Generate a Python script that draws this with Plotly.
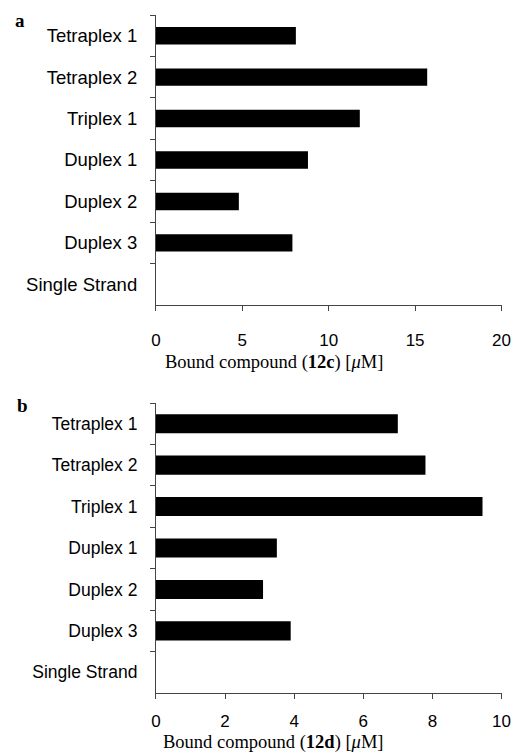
import plotly.graph_objects as go

categories = ["Tetraplex 1", "Tetraplex 2", "Triplex 1", "Duplex 1",
              "Duplex 2", "Duplex 3", "Single Strand"]
values_12c = [8.1, 15.7, 11.8, 8.8, 4.8, 7.9, 0]
values_12d = [7.0, 7.8, 9.45, 3.5, 3.1, 3.9, 0]
ticks_a = [0, 5, 10, 15, 20]
ticks_b = [0, 2, 4, 6, 8, 10]

W, H = 529, 755
def px(p):
    return p / W
def py(p):
    return 1 - p / H

fig = go.Figure()
fig.add_trace(go.Bar(y=categories, x=values_12c, orientation="h",
                     marker=dict(color="black", line=dict(width=0)),
                     width=0.42, xaxis="x", yaxis="y", showlegend=False))
fig.add_trace(go.Bar(y=categories, x=values_12d, orientation="h",
                     marker=dict(color="black", line=dict(width=0)),
                     width=0.46, xaxis="x2", yaxis="y2", showlegend=False))

xdom = [px(155), px(510)]
axis_common = dict(showline=True, linecolor="#444", linewidth=1,
                   showgrid=False, zeroline=False, ticks="outside",
                   tickcolor="#444", ticklen=5)

fig.update_layout(
    width=W, height=H,
    margin=dict(l=0, r=0, t=0, b=0),
    paper_bgcolor="white", plot_bgcolor="white",
    bargap=0.5,
    xaxis=dict(domain=xdom, range=[0, 20], tickvals=ticks_a, anchor="y",
               tickfont=dict(family="Liberation Sans", size=17, color="black"),
               ticklabelstandoff=15, **axis_common),
    yaxis=dict(domain=[py(305), py(15)], anchor="x", type="category",
               categoryorder="array", categoryarray=categories,
               range=[6.5, -0.5], tickson="boundaries",
               tickfont=dict(family="Liberation Sans", size=18.5, color="black"),
               ticklabelstandoff=14, **axis_common),
    xaxis2=dict(domain=xdom, range=[0, 10], tickvals=ticks_b, anchor="y2",
                tickfont=dict(family="Liberation Sans", size=17, color="black"),
                ticklabelstandoff=8, **axis_common),
    yaxis2=dict(domain=[py(693), py(403)], anchor="x2", type="category",
                categoryorder="array", categoryarray=categories,
                range=[6.5, -0.5], tickson="boundaries",
                tickfont=dict(family="Liberation Sans", size=17.5, color="black"),
                ticklabelstandoff=14, **axis_common),
)

serif = dict(family="Liberation Serif", size=18.5, color="black")
fig.add_annotation(text="Bound compound (<b>12c</b>) [<i>μ</i>M]",
                   x=px(276), y=py(363), xref="paper", yref="paper",
                   showarrow=False, font=serif, xanchor="center", yanchor="middle")
fig.add_annotation(text="Bound compound (<b>12d</b>) [<i>μ</i>M]",
                   x=px(276), y=py(755), xref="paper", yref="paper",
                   showarrow=False, font=serif, xanchor="center", yanchor="bottom")
fig.add_annotation(text="<b>a</b>", x=px(15), y=py(21), xref="paper", yref="paper",
                   showarrow=False, font=dict(family="Liberation Serif", size=19, color="black"),
                   xanchor="center", yanchor="middle")
fig.add_annotation(text="<b>b</b>", x=px(18), y=py(405), xref="paper", yref="paper",
                   showarrow=False, font=dict(family="Liberation Serif", size=19, color="black"),
                   xanchor="center", yanchor="middle")

fig.write_html("out.html",
               config={"displayModeBar": False},
               post_script="document.body.style.margin='0';"
                           "document.body.style.overflow='hidden';")
